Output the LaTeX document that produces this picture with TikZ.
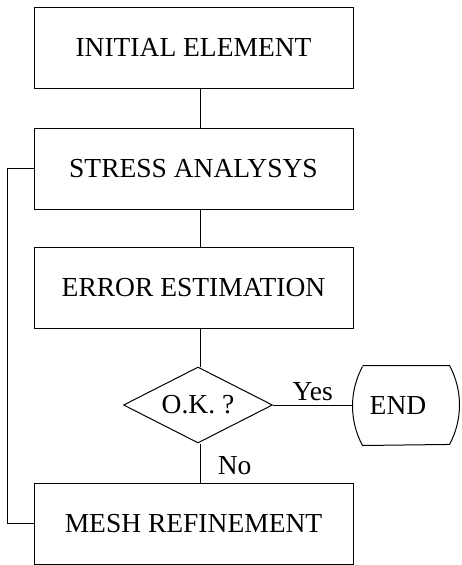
\documentclass[tikz,border=0pt]{standalone}
\usepackage{fontspec}
\setmainfont{Liberation Serif}
\usetikzlibrary{shapes.geometric}

\begin{document}
\begin{tikzpicture}[x=1pt,y=-1pt,line width=1pt,
        stepbox/.style={draw,rectangle,minimum width=319pt,minimum height=81pt,inner sep=0pt},
        decision/.style={draw,diamond,minimum width=149pt,minimum height=76pt,inner sep=0pt,shape aspect=2},
        terminal/.style={rectangle,minimum width=86pt,minimum height=79pt,inner sep=0pt},
        every node/.style={font=\fontsize{27.5}{32}\selectfont}]
        \useasboundingbox (0,0) rectangle (462,565);
        % Draw boxes
        \node [stepbox] (initial) at (193.5,47.5) {INITIAL ELEMENT};
        \node [stepbox] (stress) at (193.5,168.5) {STRESS ANALYSYS};
        \node [stepbox] (error) at (193.5,288) {ERROR ESTIMATION};
        \node [decision] (ok) at (198,405) {O.K. ?};
        \node [stepbox] (mesh) at (193.5,523.5) {MESH REFINEMENT};
        % Draw end
        \node [terminal] (end) at (406,405.5) {\hspace*{-16pt}END};
        \draw (end.north west) -- (end.north east)
                arc [start angle=-28.4, end angle=28.4, radius=83]
                -- (end.south west)
                arc [start angle=151.6, end angle=208.4, radius=83];
        \coordinate (endleft) at ([xshift=-10pt]end.west);
        % Draw connectors
        \coordinate (axis) at (200,0);
        \draw (initial.south -| axis) -- (stress.north -| axis);
        \draw (stress.south -| axis) -- (error.north -| axis);
        \draw (error.south -| axis) -- (ok.north -| axis);
        \draw (ok.south -| axis) -- node [right, xshift=14pt, yshift=-3pt] (no) {No} (mesh.north -| axis);
        \draw (ok.east) -- node [above] (yes) {Yes} (ok.east -| endleft);
        \coordinate (back) at (7,0);
        \draw (mesh.west) -- (mesh.west -| back) |- (stress.west);
\end{tikzpicture}
\end{document}
